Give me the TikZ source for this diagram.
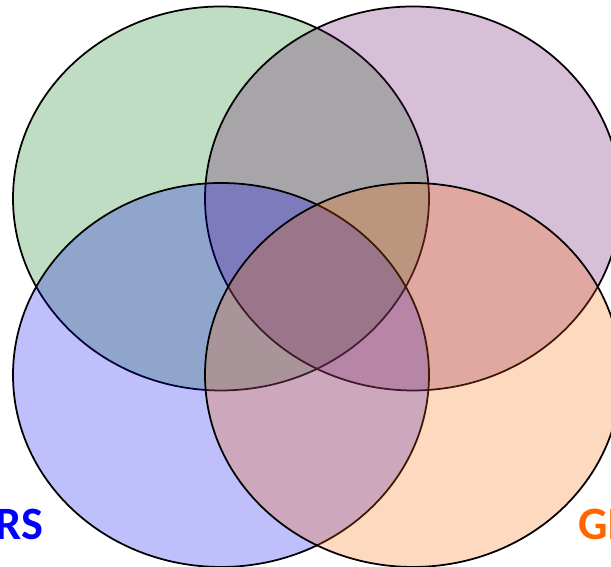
\documentclass[tikz,border=0pt]{standalone}
\usepackage{fontspec}
\setmainfont{Carlito}
\definecolor{setgreen}{RGB}{0,120,10}
\definecolor{setpurple}{RGB}{99,0,99}
\definecolor{setblue}{RGB}{0,0,239}
\definecolor{setorange}{RGB}{248,103,0}
\definecolor{labblue}{RGB}{0,0,255}
\definecolor{laborange}{RGB}{255,102,0}
\tikzset{
  setfill/.style={draw=black, line width=0.5pt, fill=#1, fill opacity=0.25, draw opacity=1},
  setlabel/.style={font=\bfseries\fontsize{13.2}{15}\selectfont, inner sep=0pt, text=#1}
}
\begin{document}
\begin{tikzpicture}
  \useasboundingbox (0,0) rectangle (6.11,5.67);
  \clip (0,0) rectangle (6.11,5.67);

  % the four sets
  \draw[setfill=setgreen]  (2.21,3.685) ellipse [x radius=2.08, y radius=1.92];
  \draw[setfill=setpurple] (4.13,3.685) ellipse [x radius=2.08, y radius=1.92];
  \draw[setfill=setblue]   (2.21,1.92) ellipse [x radius=2.08, y radius=1.92];
  \draw[setfill=setorange] (4.13,1.92) ellipse [x radius=2.08, y radius=1.92];

  % labels
  \node[setlabel=labblue, anchor=base east] (rs) at (0.44,0.27) {RS};
  \node[setlabel=laborange, anchor=base west] (gi) at (5.775,0.27) {GI};
\end{tikzpicture}
\end{document}
